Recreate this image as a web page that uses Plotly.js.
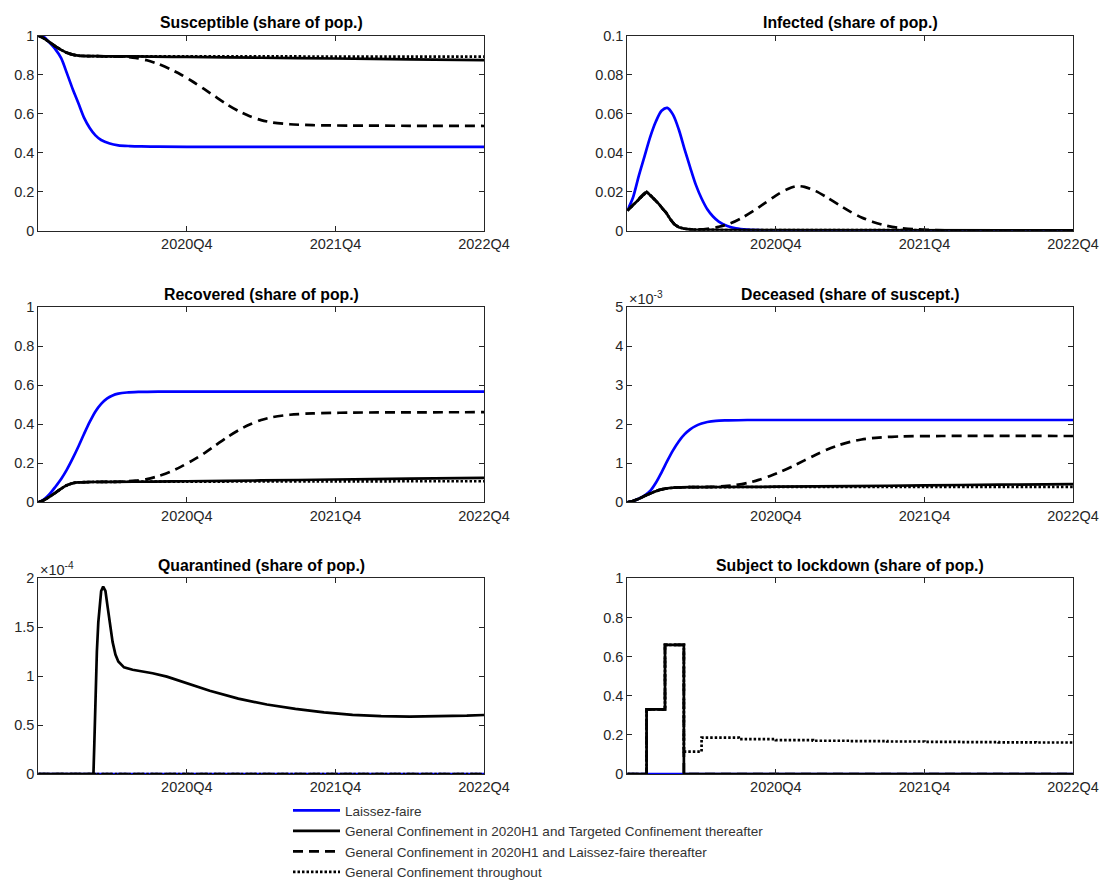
<!DOCTYPE html>
<html>
<head>
<meta charset="utf-8">
<script src="https://cdn.plot.ly/plotly-3.0.1.min.js"></script>
<style>
html,body{margin:0;padding:0;background:#ffffff;overflow:hidden;}
#chart{width:1101px;height:881px;}
</style>
</head>
<body>
<div id="chart"></div>
<script>
// ---------- x axis (weeks since start of simulation) ----------
const xTickVals = [52, 104, 156];
const xTickText = ['2020Q4', '2021Q4', '2022Q4'];

const seriesNames = [
  'Laissez-faire',
  'General Confinement in 2020H1 and Targeted Confinement thereafter',
  'General Confinement in 2020H1 and Laissez-faire thereafter',
  'General Confinement throughout'
];

const panelTitles = [
  'Susceptible (share of pop.)',
  'Infected (share of pop.)',
  'Recovered (share of pop.)',
  'Deceased (share of suscept.)',
  'Quarantined (share of pop.)',
  'Subject to lockdown (share of pop.)'
];

// ---------- Susceptible ----------
const susLF_t = [0,2,4,6,8,10,12,14,16,18,20,22,25,28,32,36,42,52,156];
const susLF   = [1.0,0.992,0.963,0.93,0.885,0.808,0.728,0.655,0.58,0.527,0.489,0.465,0.447,0.438,0.434,0.432,0.431,0.430,0.430];
const susTC_t = [0,2,4,6,8,10,12,14,16,20,26,40,52,78,104,130,156];
const susTC   = [1.0,0.986,0.966,0.945,0.927,0.912,0.903,0.898,0.896,0.895,0.894,0.893,0.891,0.887,0.883,0.879,0.875];
const susGL_t = [0,2,4,6,8,10,12,14,16,20,26,30,34,38,42,46,50,54,58,62,66,70,74,78,82,88,96,110,130,156];
const susGL   = [1.0,0.986,0.966,0.945,0.927,0.912,0.903,0.898,0.896,0.895,0.894,0.892,0.886,0.874,0.855,0.83,0.80,0.765,0.727,0.687,0.648,0.614,0.587,0.567,0.555,0.546,0.541,0.539,0.538,0.537];
const susGC_t = [0,2,4,6,8,10,12,14,16,20,26,40,52,78,104,130,156];
const susGC   = [1.0,0.986,0.966,0.945,0.927,0.912,0.903,0.898,0.896,0.895,0.894,0.894,0.894,0.894,0.893,0.893,0.893];

// ---------- Infected ----------
const infLF_t = [0,2,4,6,8,10,12,14,16,18,20,22,24,26,28,30,32,35,38,42,48,56,70,156];
const infLF   = [0.0103,0.017,0.028,0.038,0.048,0.056,0.0615,0.063,0.0595,0.052,0.042,0.0325,0.0235,0.0165,0.011,0.0073,0.0047,0.0024,0.0012,0.0005,0.00015,0.00004,0,0];
const infTC_t = [0,2,4,6.8,9,11,12.5,13.5,15,16.5,18,20,23,27,35,156];
const infTC   = [0.0103,0.0132,0.0163,0.0199,0.0168,0.0138,0.0110,0.0094,0.0060,0.0033,0.0018,0.0010,0.0006,0.0004,0.0003,0.0002];
const infGL_t = [0,2,4,6.8,9,11,12.5,13.5,15,16.5,18,20,24,28,32,36,40,44,48,52,56,59,62,66,70,74,78,82,86,90,95,100,108,120,156];
const infGL   = [0.0103,0.0132,0.0163,0.0199,0.0168,0.0138,0.0110,0.0094,0.0060,0.0033,0.0018,0.0010,0.0006,0.001,0.002,0.0037,0.0065,0.0100,0.0140,0.0180,0.0213,0.0228,0.0225,0.0203,0.0170,0.0133,0.0098,0.0068,0.0045,0.0028,0.0015,0.0008,0.0003,0.0001,0];
const infGC_t = [0,2,4,6.8,9,11,12.5,13.5,15,16.5,18,20,23,27,35,156];
const infGC   = [0.0103,0.0132,0.0163,0.0199,0.0168,0.0138,0.0110,0.0094,0.0060,0.0033,0.0018,0.0010,0.0006,0.0004,0.0003,0.0002];

// ---------- Recovered ----------
const recLF_t = [0,2,4,6,8,10,12,14,16,18,20,22,24,26,28,31,35,42,156];
const recLF   = [0,0.015,0.043,0.08,0.12,0.168,0.224,0.285,0.35,0.412,0.466,0.505,0.532,0.548,0.557,0.563,0.566,0.568,0.568];
const recTC_t = [0,2,4,6,8,10,12,14,18,26,40,52,78,104,130,156];
const recTC   = [0,0.012,0.029,0.049,0.07,0.087,0.098,0.102,0.104,0.105,0.106,0.108,0.112,0.117,0.121,0.125];
const recGL_t = [0,2,4,6,8,10,12,14,18,20,26,30,34,38,42,46,50,54,58,62,66,70,74,78,82,88,96,110,156];
const recGL   = [0,0.012,0.029,0.049,0.07,0.087,0.098,0.102,0.104,0.104,0.105,0.107,0.111,0.119,0.134,0.155,0.183,0.215,0.251,0.292,0.333,0.369,0.399,0.422,0.437,0.449,0.456,0.46,0.462];
const recGC_t = [0,2,4,6,8,10,12,14,18,26,40,52,78,104,130,156];
const recGC   = [0,0.012,0.029,0.049,0.07,0.087,0.098,0.102,0.104,0.105,0.106,0.106,0.107,0.107,0.108,0.108];

// ---------- Deceased (x 10^-3) ----------
const decLF_t = [0,2,4,6,8,10,12,14,16,18,20,22,24,26,28,31,35,42,156];
const decLF   = [0,0.035,0.09,0.17,0.29,0.5,0.77,1.06,1.33,1.56,1.74,1.87,1.96,2.02,2.06,2.09,2.10,2.11,2.11];
const decTC_t = [0,2,4,6,8,10,12,14,16,18,22,26,40,52,78,104,130,156];
const decTC   = [0,0.035,0.09,0.16,0.225,0.285,0.33,0.358,0.373,0.382,0.388,0.39,0.395,0.40,0.415,0.435,0.452,0.468];
const decGL_t = [0,2,4,6,8,10,12,14,16,18,22,26,30,34,38,42,46,50,54,58,62,66,70,74,78,82,88,96,110,156];
const decGL   = [0,0.035,0.09,0.16,0.225,0.285,0.33,0.358,0.373,0.382,0.388,0.39,0.398,0.413,0.443,0.495,0.575,0.675,0.795,0.93,1.075,1.22,1.355,1.465,1.55,1.61,1.66,1.69,1.70,1.70];
const decGC_t = [0,2,4,6,8,10,12,14,16,18,22,26,40,52,104,156];
const decGC   = [0,0.035,0.09,0.16,0.225,0.285,0.33,0.358,0.373,0.382,0.388,0.39,0.392,0.393,0.394,0.395];

// ---------- Quarantined (x 10^-4) ----------
const quaTC_t = [0,19.3,19.6,20,20.5,21,21.5,22,22.7,23.5,24.3,25,26,27,28,30,33,36,40,45,52,60,70,80,90,100,110,120,130,140,150,156];
const quaTC   = [0,0,0.3,0.8,1.25,1.55,1.75,1.87,1.915,1.87,1.7,1.55,1.35,1.22,1.15,1.09,1.065,1.05,1.03,0.995,0.93,0.85,0.77,0.71,0.665,0.63,0.605,0.592,0.587,0.588,0.596,0.603];
const quaZero_t = [0,156];
const quaZero   = [0,0];

// ---------- Subject to lockdown ----------
const lockLF_t = [0,156];
const lockLF   = [0,0];
const lockTC_t = [0,6.75,13.2,19.8,156];
const lockTC   = [0,0.33,0.66,0,0];
const lockGL_t = [0,6.75,13.2,19.8,156];
const lockGL   = [0,0.33,0.66,0,0];
const lockGC_t = [0,6.75,13.2,19.8,26,39,52,65,78,91,104,117,130,143,156];
const lockGC   = [0,0.33,0.66,0.114,0.186,0.178,0.173,0.170,0.168,0.166,0.164,0.163,0.162,0.161,0.160];

// ---------- styles ----------
const LW = 2.7;
const styles = [
  {color:'#0000ff', dash:'solid'},
  {color:'#000000', dash:'solid'},
  {color:'#000000', dash:'10px,6px'},
  {color:'#000000', dash:'2.5px,2px'}
];

const panels = [
  {t:[susLF_t,susTC_t,susGL_t,susGC_t], v:[susLF,susTC,susGL,susGC], shape:['spline','spline','spline','spline']},
  {t:[infLF_t,infTC_t,infGL_t,infGC_t], v:[infLF,infTC,infGL,infGC], shape:['spline','linear','spline','linear']},
  {t:[recLF_t,recTC_t,recGL_t,recGC_t], v:[recLF,recTC,recGL,recGC], shape:['spline','spline','spline','spline']},
  {t:[decLF_t,decTC_t,decGL_t,decGC_t], v:[decLF,decTC,decGL,decGC], shape:['spline','spline','spline','spline']},
  {t:[quaZero_t,quaTC_t,quaZero_t,quaZero_t], v:[quaZero,quaTC,quaZero,quaZero], shape:['linear','linear','linear','linear']},
  {t:[lockLF_t,lockTC_t,lockGL_t,lockGC_t], v:[lockLF,lockTC,lockGL,lockGC], shape:['hv','hv','hv','hv']}
];

const W = 1101, H = 881;
const xDomL = [38.3/W, 484/W], xDomR = [627.3/W, 1073/W];
const rowY = [[230.7,35.7],[502.3,307.3],[774,578.3]];
function yDom(r){ return [(H-rowY[r][0])/H, (H-rowY[r][1])/H]; }

const yRanges = [[0,1],[0,0.1],[0,1],[0,5],[0,2],[0,1]];
const yDticks = [0.2,0.02,0.2,1,0.5,0.2];

const axisColor = '#262626';
const FONT = 'Liberation Sans, Arial, Helvetica, sans-serif';
const tickFont = {family:FONT, size:14.5, color:axisColor};

const traces = [];
panels.forEach((p, i) => {
  const ax = i === 0 ? '' : String(i+1);
  for (let s = 0; s < 4; s++) {
    traces.push({
      type:'scatter', mode:'lines',
      x:p.t[s], y:p.v[s],
      xaxis:'x'+ax, yaxis:'y'+ax,
      name:seriesNames[s],
      legendgroup:'s'+s,
      showlegend:i === 0,
      line:{color:styles[s].color, dash:styles[s].dash, width:LW, shape:p.shape[s], smoothing:0.8},
      hoverinfo:'skip'
    });
  }
});

const layout = {
  width:W, height:H,
  margin:{l:0,r:0,t:0,b:0, autoexpand:false},
  paper_bgcolor:'#ffffff', plot_bgcolor:'#ffffff',
  font:{family:FONT, size:13.5, color:axisColor},
  showlegend:true,
  legend:{
    x:288/W, xanchor:'left', y:(H-795)/H, yanchor:'top',
    orientation:'v', bgcolor:'rgba(0,0,0,0)', borderwidth:0,
    font:{family:FONT, size:13.5, color:'#333333'}, itemwidth:47, tracegroupgap:0
  },
  annotations:[]
};

panels.forEach((p, i) => {
  const ax = i === 0 ? '' : String(i+1);
  const col = i % 2, row = Math.floor(i/2);
  const xd = col === 0 ? xDomL : xDomR;
  const yd = yDom(row);
  layout['xaxis'+ax] = {
    domain:xd, anchor:'y'+ax, range:[0,156],
    tickmode:'array', tickvals:xTickVals, ticktext:xTickText,
    ticks:'inside', ticklen:5, tickwidth:1, tickcolor:axisColor,
    showline:true, linecolor:axisColor, linewidth:1, mirror:'ticks',
    showgrid:false, zeroline:false, tickfont:tickFont, fixedrange:true
  };
  layout['yaxis'+ax] = {
    domain:yd, anchor:'x'+ax, range:yRanges[i],
    tickmode:'linear', tick0:0, dtick:yDticks[i],
    ticks:'inside', ticklen:5, tickwidth:1, tickcolor:axisColor,
    showline:true, linecolor:axisColor, linewidth:1, mirror:'ticks',
    showgrid:false, zeroline:false, tickfont:tickFont, fixedrange:true
  };
  layout.annotations.push({
    xref:'paper', yref:'paper',
    x:(xd[0]+xd[1])/2, y:yd[1], xanchor:'center', yanchor:'bottom', yshift:2.5,
    text:'<b>'+panelTitles[i]+'</b>', showarrow:false,
    font:{family:FONT, size:15.8, color:'#000000'}
  });
});

// exponent labels
layout.annotations.push({
  xref:'paper', yref:'paper', x:xDomR[0], y:yDom(1)[1], xanchor:'left', yanchor:'bottom', yshift:-2,
  text:'\u00d710<sup>-3</sup>', showarrow:false, font:{family:FONT, size:14.5, color:axisColor}
});
layout.annotations.push({
  xref:'paper', yref:'paper', x:xDomL[0], y:yDom(2)[1], xanchor:'left', yanchor:'bottom', yshift:-2,
  text:'\u00d710<sup>-4</sup>', showarrow:false, font:{family:FONT, size:14.5, color:axisColor}
});

Plotly.newPlot('chart', traces, layout, {staticPlot:true, displayModeBar:false});
</script>
</body>
</html>
